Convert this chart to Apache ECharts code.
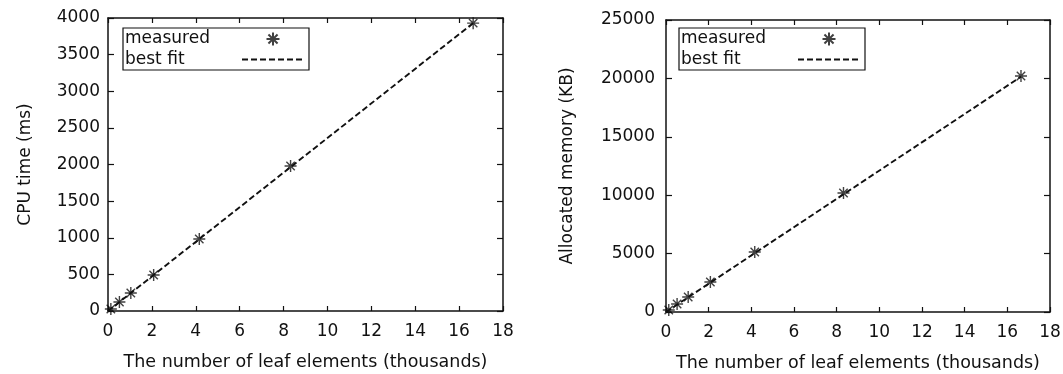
<!DOCTYPE html>
<html>
<head>
<meta charset="utf-8">
<script src="https://cdn.jsdelivr.net/npm/echarts@6/dist/echarts.min.js"></script>
<style>
    html, body { margin: 0; padding: 0; background: #fff; }
    #main { width: 1063px; height: 374px; }
</style>
</head>
<body>
<div id="main"></div>
<script>
// data
var leafK = [0.13, 0.52, 1.04, 2.08, 4.16, 8.32, 16.64];   // thousands of leaf elements
var cpuMs = [28, 123, 246, 491, 983, 1980, 3930];           // CPU time (ms)
var memKB = [170, 685, 1285, 2570, 5140, 10190, 20200];     // allocated memory (KB)
var fitX = [0, 16.64];
var cpuFit = [0, 3930];
var memFit = [0, 20150];

var xTicks = [0, 18, 2];
var cpuTicks = [0, 4000, 500];
var memTicks = [0, 25000, 5000];

function pairs(xs, ys) {
    return xs.map(function (x, i) { return [x, ys[i]]; });
}

var font = 'DejaVu Sans';
var star = 'path://M5 0L5 10M0 5L10 5M1.5 1.5L8.5 8.5M8.5 1.5L1.5 8.5';

function xAxisOpt(grid, bottom, ticks) {
    return {
        type: 'value',
        gridIndex: grid,
        position: bottom ? 'bottom' : 'top',
        min: ticks[0], max: ticks[1], interval: ticks[2],
        name: bottom ? 'The number of leaf elements (thousands)' : '',
        nameLocation: 'middle',
        nameGap: 42,
        nameTextStyle: {fontFamily: font, fontSize: 17.5, color: '#111'},
        axisLine: {show: true, onZero: false, lineStyle: {color: '#111', width: 1.5}},
        axisTick: {show: true, inside: true, length: 5, lineStyle: {color: '#111', width: 1.2}},
        axisLabel: {show: bottom, margin: 12, fontFamily: font, fontSize: 17, color: '#111',
            formatter: function (v) { return String(v); }},
        splitLine: {show: false}
    };
}

function yAxisOpt(grid, left, ticks, name, gap, margin) {
    return {
        type: 'value',
        gridIndex: grid,
        position: left ? 'left' : 'right',
        min: ticks[0], max: ticks[1], interval: ticks[2],
        name: left ? name : '',
        nameLocation: 'middle',
        nameGap: gap,
        nameTextStyle: {fontFamily: font, fontSize: 17, color: '#111'},
        axisLine: {show: true, onZero: false, lineStyle: {color: '#111', width: 1.5}},
        axisTick: {show: true, inside: true, length: 6, lineStyle: {color: '#111', width: 1.2}},
        axisLabel: {show: left, margin: margin, fontFamily: font, fontSize: 17, color: '#111',
            formatter: function (v) { return String(v); }},
        splitLine: {show: false}
    };
}

function legendOpt(left, top) {
    return {
        left: left, top: top,
        orient: 'vertical',
        align: 'right',
        data: ['measured', 'best fit'],
        itemWidth: 62,
        itemHeight: 13,
        itemGap: 3,
        padding: [2, 4, 2, 2],
        borderColor: '#111',
        borderWidth: 1.2,
        borderRadius: 0,
        selectedMode: false,
        formatter: '{t|{name}}',
        textStyle: {
            fontFamily: font, fontSize: 17, color: '#111',
            rich: {t: {width: 112, align: 'left', fontFamily: font, fontSize: 17, color: '#111'}}
        }
    };
}

var dom = document.getElementById('main');
var myChart = echarts.init(dom);
var option = {
    backgroundColor: '#fff',
    animation: false,
    grid: [
        {left: 108, right: 560, top: 18, bottom: 63, outerBoundsMode: 'none'},
        {left: 666, right: 13, top: 20, bottom: 62, outerBoundsMode: 'none'}
    ],
    legend: [legendOpt(123, 28), legendOpt(679, 28)],
    xAxis: [
        xAxisOpt(0, true, xTicks),
        xAxisOpt(0, false, xTicks),
        xAxisOpt(1, true, xTicks),
        xAxisOpt(1, false, xTicks)
    ],
    yAxis: [
        yAxisOpt(0, true, cpuTicks, 'CPU time (ms)', 74, 8),
        yAxisOpt(0, false, cpuTicks, '', 0, 8),
        yAxisOpt(1, true, memTicks, 'Allocated memory (KB)', 90, 11),
        yAxisOpt(1, false, memTicks, '', 0, 11)
    ],
    series: [
        {
            name: 'measured',
            type: 'scatter',
            xAxisIndex: 0, yAxisIndex: 0,
            data: pairs(leafK, cpuMs),
            symbol: star,
            symbolSize: 12,
            itemStyle: {color: 'none', borderColor: '#111', borderWidth: 1.4},
            z: 3
        },
        {
            name: 'best fit',
            type: 'line',
            xAxisIndex: 0, yAxisIndex: 0,
            data: pairs(fitX, cpuFit),
            symbol: 'none',
            itemStyle: {color: 'rgba(0,0,0,0)'},
            lineStyle: {color: '#111', width: 1.9, type: [6, 3]}
        },
        {
            name: 'measured',
            type: 'scatter',
            xAxisIndex: 2, yAxisIndex: 2,
            data: pairs(leafK, memKB),
            symbol: star,
            symbolSize: 12,
            itemStyle: {color: 'none', borderColor: '#111', borderWidth: 1.4},
            z: 3
        },
        {
            name: 'best fit',
            type: 'line',
            xAxisIndex: 2, yAxisIndex: 2,
            data: pairs(fitX, memFit),
            symbol: 'none',
            itemStyle: {color: 'rgba(0,0,0,0)'},
            lineStyle: {color: '#111', width: 1.9, type: [6, 3]}
        }
    ]
};
if (option && typeof option === "object") {
    myChart.setOption(option, true);
}
</script>
</body>
</html>
